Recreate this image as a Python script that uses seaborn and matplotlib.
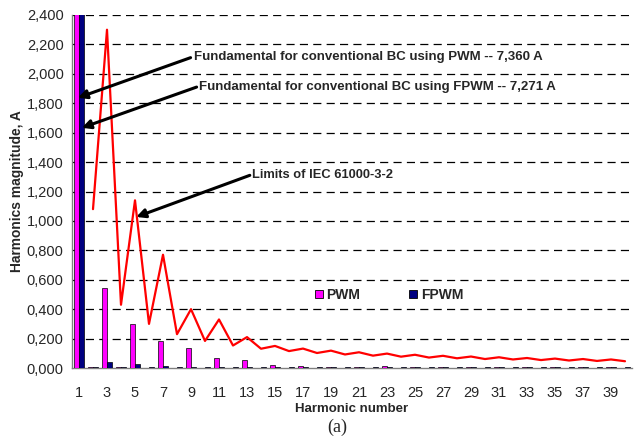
import numpy as np
import pandas as pd
import matplotlib
matplotlib.use("Agg")
import matplotlib.pyplot as plt
from matplotlib.lines import Line2D
from matplotlib.ticker import FixedLocator
import seaborn as sns

# ---------------- data ----------------
harmonics = list(range(1, 41))
pwm = [7.360, 0.004, 0.545, 0.004, 0.300, 0.003, 0.185, 0.003, 0.138, 0.003,
       0.068, 0.003, 0.055, 0.003, 0.020, 0.003, 0.012, 0.003, 0.006, 0.003,
       0.005, 0.003, 0.012, 0.003, 0.010, 0.003, 0.010, 0.003, 0.006, 0.003,
       0.005, 0.003, 0.010, 0.003, 0.005, 0.003, 0.005, 0.003, 0.006, 0.003]
fpwm = [7.271, 0.005, 0.040, 0.005, 0.028, 0.004, 0.012, 0.005, 0.010, 0.004,
        0.010, 0.004, 0.006, 0.004, 0.005, 0.004, 0.005, 0.004, 0.005, 0.004,
        0.005, 0.004, 0.005, 0.004, 0.005, 0.004, 0.005, 0.004, 0.005, 0.004,
        0.005, 0.004, 0.005, 0.004, 0.005, 0.004, 0.005, 0.004, 0.005, 0.004]
limit_harmonics = list(range(2, 41))
limits = [1.080, 2.300, 0.430, 1.140, 0.300, 0.770, 0.230, 0.400, 0.184, 0.330,
          0.153, 0.210, 0.131, 0.150, 0.115, 0.132, 0.102, 0.118, 0.092, 0.107,
          0.084, 0.098, 0.077, 0.090, 0.071, 0.083, 0.066, 0.078, 0.061, 0.073,
          0.058, 0.068, 0.054, 0.064, 0.051, 0.061, 0.048, 0.058, 0.046]
ytick_values = [0.0, 0.2, 0.4, 0.6, 0.8, 1.0, 1.2, 1.4, 1.6, 1.8, 2.0, 2.2, 2.4]
ytick_labels = ["0,000", "0,200", "0,400", "0,600", "0,800", "1,000", "1,200",
                "1,400", "1,600", "1,800", "2,000", "2,200", "2,400"]
series_names = ["PWM", "FPWM"]
series_colors = ["#FF00FF", "#000080"]

df = pd.DataFrame({
    "harmonic": harmonics * 2,
    "value": pwm + fpwm,
    "type": ["PWM"] * len(pwm) + ["FPWM"] * len(fpwm),
})
lim_df = pd.DataFrame({"pos": [h - 1 for h in limit_harmonics], "limit": limits})

# ---------------- style ----------------
sns.set_style("white")
plt.rcParams["font.family"] = ["Liberation Sans", "DejaVu Sans"]

fig = plt.figure(figsize=(6.37, 4.41), dpi=100)
ax = fig.add_axes([72 / 637, 1 - 368 / 441, 560 / 637, 353 / 441])

sns.barplot(data=df, x="harmonic", y="value", hue="type", hue_order=series_names,
            palette=dict(zip(series_names, series_colors)), width=0.72,
            edgecolor="black", linewidth=0.5, saturation=1, ax=ax, legend=False,
            zorder=3)
sns.lineplot(data=lim_df, x="pos", y="limit", color="red", lw=1.6, ax=ax,
             zorder=4)

ax.set_xlim(-0.5, 39.5)
ax.set_ylim(0, 2.4)

# horizontal dashed gridlines
ax.hlines(ytick_values[1:], -0.5, 39.5, colors="black", linewidths=0.9,
          linestyles=[(0, (6.5, 4.2))], zorder=2)
ax.grid(False)

# y axis
ax.yaxis.set_major_locator(FixedLocator(ytick_values))
ax.set_yticklabels(ytick_labels, fontsize=10.5)
ax.tick_params(axis="y", length=3, width=0.8, color="#808080", pad=3)

# x axis
major = [i for i, h in enumerate(harmonics) if h % 2 == 1]
ax.xaxis.set_major_locator(FixedLocator(major))
ax.set_xticklabels([str(harmonics[i]) for i in major], fontsize=10.5)
ax.xaxis.set_minor_locator(FixedLocator(np.arange(-0.5, 40, 1.0)))
ax.tick_params(axis="x", which="major", length=0, pad=13)
ax.tick_params(axis="x", which="minor", length=4, width=0.8, color="#808080",
               direction="out")

for s in ["top", "right"]:
    ax.spines[s].set_visible(False)
for s in ["left", "bottom"]:
    ax.spines[s].set_color("#808080")
    ax.spines[s].set_linewidth(1.0)

ax.set_xlabel("Harmonic number", fontsize=9.5, fontweight="bold", labelpad=2)
ax.set_ylabel("Harmonics magnitude, A", fontsize=9.9, fontweight="bold",
              labelpad=2)

# legend
handles = [Line2D([], [], marker="s", ls="none", markersize=6,
                  markerfacecolor=c, markeredgecolor="black",
                  markeredgewidth=0.6) for c in series_colors]
leg = ax.legend(handles, series_names, ncol=2, frameon=False,
                loc="center left", bbox_to_anchor=(0.432, 0.207),
                borderaxespad=0, borderpad=0, handlelength=0.7,
                handletextpad=0.2, columnspacing=3.45,
                prop={"weight": "bold", "size": 10})

# annotations: arrows + separate texts
arrow = dict(arrowstyle="-|>", lw=2.2, color="black", mutation_scale=13,
             shrinkA=0, shrinkB=0)
ann = [
    ("Fundamental for conventional BC using PWM -- 7,360 A", (-0.08, 1.837), (7.97, 2.11), (8.2, 2.116), 9.55),
    ("Fundamental for conventional BC using FPWM -- 7,271 A", (0.2, 1.633), (8.4, 1.91), (8.55, 1.91), 9.55),
    ("Limits of IEC 61000-3-2", (4.09, 1.027), (12.2, 1.31), (12.35, 1.313), 9.3),
]
for txt, head, tail, tpos, fs in ann:
    ax.annotate("", xy=head, xytext=tail, arrowprops=arrow, zorder=6)
    ax.text(tpos[0], tpos[1], txt, ha="left", va="center", fontsize=fs,
            fontweight="bold", zorder=6)

fig.text(337 / 637, 1 - 427 / 441, "(a)", ha="center", va="center",
         fontsize=13, family="Liberation Serif")

fig.savefig("out.png", dpi=100)
